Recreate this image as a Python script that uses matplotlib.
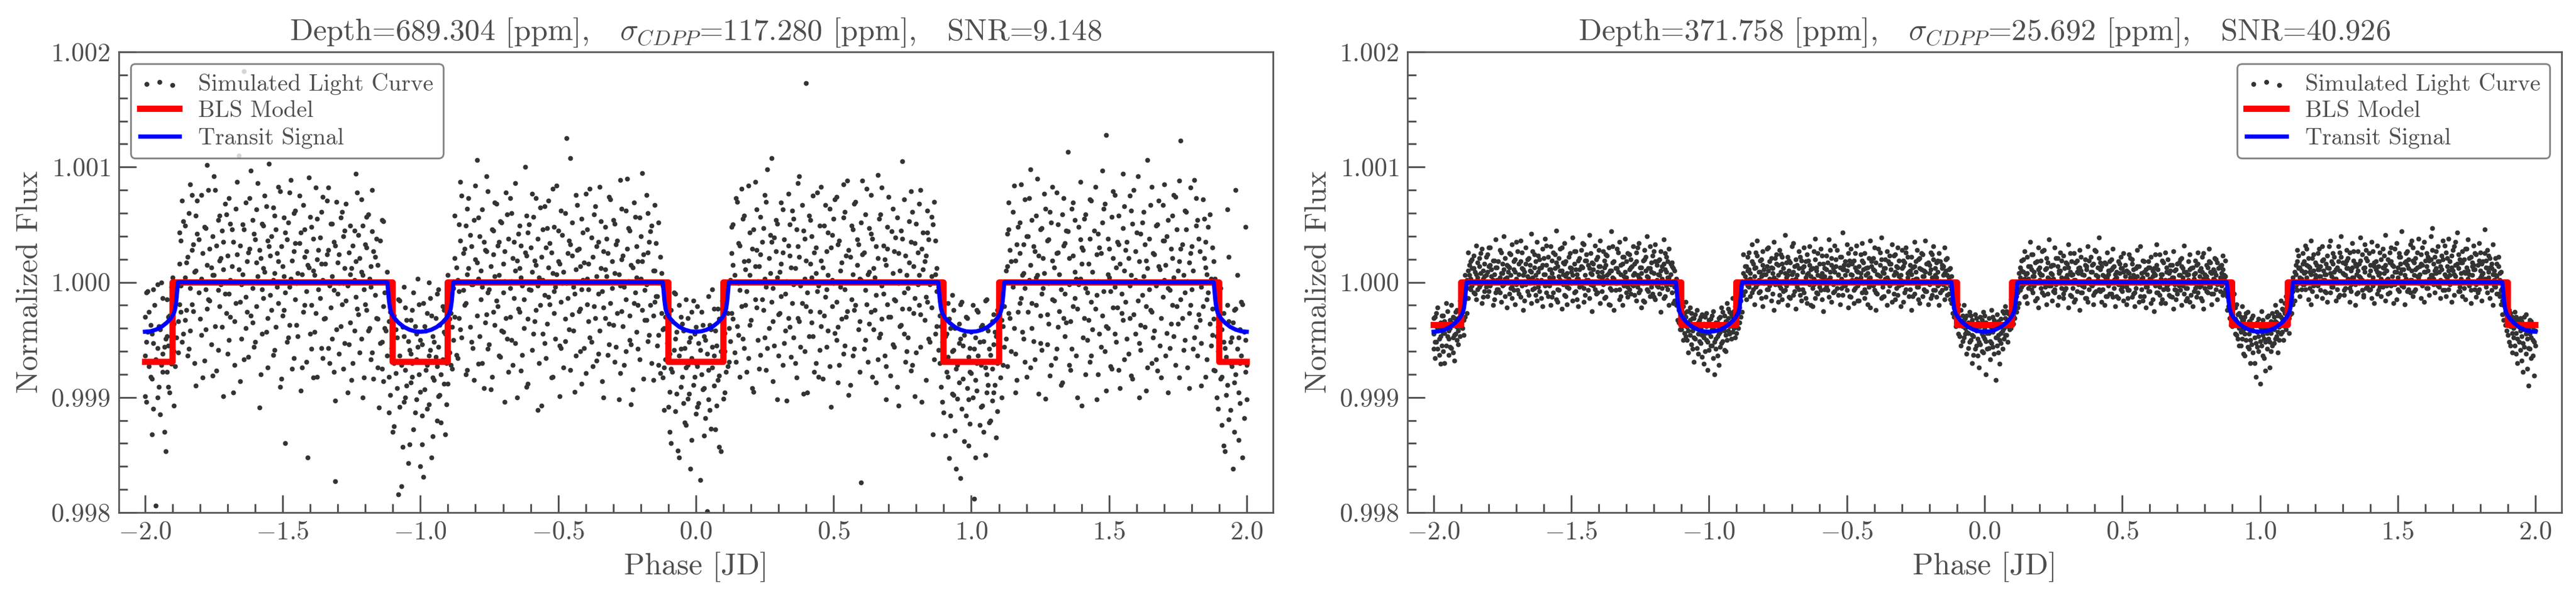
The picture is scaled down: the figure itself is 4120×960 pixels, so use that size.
import matplotlib
matplotlib.use('Agg')
import numpy as np
import matplotlib.pyplot as plt
from matplotlib.ticker import MultipleLocator

# light curves: {phase in 0.01: [flux offsets in 10 ppm from the baseline]}
lc1_baseline = 0.99988
lc2_baseline = 1.0

lc1 = {
-200: [-52, -18, -87], -199: [-31, 4], -198: [-70, -25], -197: [-98, -41, 6], -196: [-182, -55],
-195: [-26, -79], -194: [12, -60], -193: [-44, -118], -192: [-3, -66, -35], -191: [-84, -17],
-190: [-38, 16], -189: [-61, 1], -188: [-22, -49], -187: [9, 48, -14], -186: [-33, 65],
-185: [29, -12], -184: [72, -46], -183: [40, -7, 88], -182: [-58, 21], -181: [54, 83],
-180: [-20, 13], -179: [37, -71], -178: [6, 59, -29], -177: [92, -3], -176: [-42, 25],
-175: [18, 104], -174: [-65, 44], -173: [31, -9, 70], -172: [-27, 57], -171: [80, 2],
-170: [-50, 35], -169: [14, 63, -18], -168: [47, -84], -167: [-6, 76], -166: [122, 23],
-165: [-37, 10], -164: [58, -55, 195], -163: [30, -14], -162: [85, 41], -161: [-23, 66, 7],
-160: [49, -40], -159: [17, 98], -158: [-68, 33], -157: [61, -2, 24], -156: [-31, 78],
-155: [43, 115], -154: [-12, 52], -153: [70, -47, 20], -152: [8, 37], -151: [-79, 91],
-150: [26, -17], -149: [55, 3, -128], -148: [-36, 64], -147: [101, 15], -146: [-54, 39, 72],
-145: [11, -25], -144: [46, 87], -143: [-62, 19], -142: [34, -8, 58], -141: [-140, 27],
-140: [69, -33], -139: [22, 50, -71], -138: [-15, 94], -137: [40, 6], -136: [-45, 73, 28],
-135: [12, -20], -134: [83, 36], -133: [-58, 9], -132: [63, -37, 17], -131: [-91, 44, -161],
-130: [29, 2], -129: [-26, 68], -128: [52, -63, 11], -127: [-4, 80], -126: [38, -42],
-125: [-73, 24], -124: [57, 14, -30], -123: [90, -11], -122: [-49, 33], -121: [18, -88, 61],
-120: [-7, 45], -119: [71, -30], -118: [-55, 8, 26], -117: [39, -72], -116: [-19, 50],
-115: [-97, 12], -114: [-40, 66, -63], -113: [3, -28], -112: [-52, 21], -111: [-86, -14],
-110: [-41, -118, 5], -109: [-67, -29], -108: [-3, -172], -107: [-165, -60], -106: [-35, -92, 8],
-105: [-78, -21], -104: [-129, -47], -103: [-12, -70, -58], -102: [-101, -26], -101: [-44, 15],
-100: [-83, -148, -38], -99: [-157, -6], -98: [-64, -30], -97: [-94, -52, 12], -96: [-17, -140],
-95: [-73, -40], -94: [-108, 2, -61], -93: [-25, -86], -92: [-55, -9], -91: [-120, -33],
-90: [-47, 18, -76], -89: [-15, -60], -88: [-38, 7], -87: [25, -51], -86: [62, 4, -19],
-85: [-36, 87], -84: [41, -8], -83: [76, 19, -64], -82: [-27, 53], -81: [10, -45],
-80: [96, 32], -79: [-59, 15, 68], -78: [22, -3], -77: [-80, 47], -76: [39, 104, -16],
-75: [-42, 6], -74: [58, -70], -73: [17, 81, -25], -72: [-9, 44], -71: [65, -53],
-70: [-31, 28, 3], -69: [90, -19], -68: [-66, 50], -67: [13, -38, 72], -66: [47, -2],
-65: [-88, 31], -64: [24, 61, -14], -63: [-51, 9], -62: [112, 38], -61: [-20, -76, 55],
-60: [5, 42], -59: [69, -33], -58: [-12, 27, 85], -57: [-58, 16], -56: [34, -95],
-55: [78, 1, -41], -54: [-24, 59], -53: [46, -7], -52: [-70, 20, 93], -51: [8, -37],
-50: [57, 30], -49: [-45, 74, -5], -48: [21, -62], -47: [137, 11], -46: [-29, 48],
-45: [64, -16, 35], -44: [-83, 2], -43: [40, 79], -42: [-11, -48, 26], -41: [55, 14],
-40: [-67, 89], -39: [28, -22, 6], -38: [-40, 51], -37: [71, -9], -36: [17, -56, 43],
-35: [-30, 95], -34: [4, -74], -33: [60, 23, -19], -32: [-51, 37], -31: [84, -6],
-30: [-25, 12, 66], -29: [45, -44], -28: [-90, 19], -27: [32, 76, -13], -26: [-60, 8],
-25: [102, 41], -24: [-17, -38, 57], -23: [25, -81], -22: [69, 3], -21: [-46, 30, -8],
-20: [15, 52], -19: [-72, 36], -18: [88, -21, 10], -17: [-34, 47], -16: [61, -58],
-15: [-5, 22, 79], -14: [-43, 0], -13: [34, -67], -12: [-29, -71, 9], -11: [-55, -18],
-10: [-96, -40], -9: [-12, -128, -63], -8: [-47, 3], -7: [-85, -31], -6: [-140, -52, -8],
-5: [-70, -24], -4: [-110, -45], -3: [-19, -89, -60], -2: [-36, -150], -1: [-77, -4],
0: [-58, -102, -27], 1: [-93, -41], 2: [-14, -68], 3: [-121, -35, -80], 4: [-187, -50],
5: [-25, -99], 6: [-62, 6, -44], 7: [-116, -30], 8: [-73, -11], 9: [-48, -135, -20],
10: [-89, -39], 11: [-2, -66], 12: [-28, -57], 13: [37, -15, 60], 14: [-49, 18],
15: [82, -26], 16: [5, 44, -70], 17: [-37, 67], 18: [23, -8], 19: [96, -54, 31],
20: [-21, 12], 21: [58, -83], 22: [-10, 40, 75], 23: [-63, 26], 24: [47, -3],
25: [-36, 88, 15], 26: [110, -45], 27: [20, 53], 28: [-74, 7, -22], 29: [39, 66],
30: [-16, -52], 31: [81, 28, 0], 32: [-41, 49], 33: [13, -91], 34: [62, -27, 35],
35: [-6, 74], 36: [-58, 24], 37: [43, 98, -19], 38: [9, -44], 39: [-85, 57],
40: [31, 185, -9], 41: [70, -35], 42: [-23, 16, 52], 43: [-66, 38], 44: [90, 4],
45: [-47, 61, -14], 46: [25, -72], 47: [-1, 79], 48: [55, -30, 18], 49: [-96, 42],
50: [11, 67], 51: [-38, -5, 86], 52: [48, -60], 53: [-20, 29], 54: [73, -43, 6],
55: [-13, 100], 56: [34, -77], 57: [-52, 19, 58], 58: [82, -8], 59: [-29, 45],
60: [-162, 14, 64], 61: [38, -46], 62: [-7, 93], 63: [59, -24, 21], 64: [-70, 50],
65: [16, -12], 66: [105, -55, 33], 67: [-33, 71], 68: [44, 2], 69: [-61, 27, -90],
70: [86, -18], 71: [12, 56], 72: [-44, -3, 39], 73: [68, -79], 74: [-26, 22],
75: [50, 117, -11], 76: [-57, 35], 77: [7, -36], 78: [91, 47, -65], 79: [-15, 26],
80: [63, -49], 81: [-8, 80, 18], 82: [-92, 41], 83: [30, -21], 84: [74, -5, 55],
85: [-40, 10], 86: [-120, 62], 87: [19, -33, 48], 88: [-47, 8], 89: [-79, -26],
90: [-10, -101, -55], 91: [-66, -33], 92: [-141, -20], 93: [-85, -48, 1], 94: [-28, -117],
95: [-60, -89], 96: [-37, -158, -7], 97: [-72, -43], 98: [-104, -18], 99: [-53, -90, -130],
100: [-31, -67], 101: [-176, -46], 102: [-82, -12, -58], 103: [-40, -112], 104: [-95, -25],
105: [-62, -138, -4], 106: [-30, -77], 107: [-108, -51], 108: [-16, -84, -42], 109: [-123, -35],
110: [-56, 3], 111: [-88, -21], 112: [-44, -9], 113: [26, -61, 54], 114: [-19, 40],
115: [73, 8], 116: [-50, 31, -84], 117: [60, -14], 118: [-2, 97], 119: [45, -37, 20],
120: [-70, 52], 121: [14, 85], 122: [-28, -6, 66], 123: [39, -55], 124: [102, 18],
125: [-41, 58, -17], 126: [7, 33], 127: [-89, 76], 128: [49, -24, 11], 129: [-60, 64],
130: [25, -4], 131: [90, -46, 37], 132: [-13, 19], 133: [71, -75], 134: [-35, 46, 2],
135: [56, 125], 136: [-22, -64], 137: [35, 81, -9], 138: [-52, 15], 139: [10, 60],
140: [-95, 42, 28], 141: [67, -19], 142: [-38, 3], 143: [84, -57, 50], 144: [21, -29],
145: [-11, 95], 146: [54, -68, 13], 147: [-44, 37], 148: [76, 4], 149: [-26, 140, -82],
150: [41, 16], 151: [-63, 69], 152: [8, -33, 88], 153: [47, -10], 154: [-80, 28],
155: [59, 106, -21], 156: [-5, 40], 157: [33, -50], 158: [-69, 74, 18], 159: [92, -16],
160: [12, 55], 161: [-41, -88, 30], 162: [64, 1], 163: [-27, 45], 164: [118, -62, 24],
165: [-12, 79], 166: [37, -36], 167: [-55, 9, 61], 168: [83, 26], 169: [-19, -71],
170: [48, 14, 97], 171: [-32, 52], 172: [5, -45], 173: [70, 33, -8], 174: [-60, 86],
175: [22, -24], 176: [135, -3, 41], 177: [-47, 18], 178: [58, 73], 179: [-15, -80, 29],
180: [43, 6], 181: [-36, 101], 182: [66, -52, 12], 183: [-21, 39], 184: [84, -9],
185: [-70, 47, 25], 186: [3, 60], 187: [-43, 15], 188: [-20, -64, 30], 189: [-88, -35],
190: [-51, 2], 191: [-112, -29, -70], 192: [-45, -135], 193: [-8, -77, 75], 194: [-99, -40, -58],
195: [-23, -150], 196: [-68, -11, 92], 197: [-84, -125, -36], 198: [-52, -5], 199: [-106, -31],
200: [-60, -90],
}

lc1_half = {
-199.5: [-40, -92, 3], -198.5: [-61, -14], -197.5: [-33, -120, -72], -196.5: [-8, -57],
-195.5: [-88, -45, 10], -194.5: [-29, -103], -193.5: [-66, -2, -50], -192.5: [-135, -37],
-191.5: [-18, -79, -43], -190.5: [-59, 8], -189.5: [-95, -24, -48], -188.5: [-36, 11],
-187.5: [-7, 55, 28], -186.5: [83, -40], -185.5: [16, -21, 61], -184.5: [-52, 34],
-183.5: [7, 97, -30], -182.5: [45, -13], -181.5: [-78, 22, 70], -180.5: [3, 49],
-179.5: [-34, 88, 15], -178.5: [60, -56], -177.5: [-11, 27, 114], -176.5: [41, -4],
-175.5: [-69, 18, 52], -174.5: [92, -26], -173.5: [5, 66, -47], -172.5: [33, 10],
-171.5: [-87, 47, 23], -170.5: [71, -15], -169.5: [-38, 2, 85], -168.5: [26, 58],
-167.5: [-60, 13, -22], -166.5: [99, 36], -165.5: [-5, -74, 44], -164.5: [62, 19],
-163.5: [-28, 81, -1], -162.5: [38, -53], -161.5: [12, 109, -17], -160.5: [-44, 54],
-159.5: [29, -9, 75], -158.5: [-97, 40], -157.5: [6, 63, -33], -156.5: [87, 21],
-155.5: [-19, -62, 48], -154.5: [35, 1], -153.5: [-51, 77, 14], -152.5: [58, -27],
-151.5: [-6, 30, 95], -150.5: [-72, 43], -149.5: [17, -12, 68], -148.5: [49, -40],
-147.5: [-25, 90, 8], -146.5: [-63, 31], -145.5: [74, -3, 46], -144.5: [-35, 20],
-143.5: [55, -82, 12], -142.5: [-14, 79], -141.5: [39, 4, -57], -140.5: [103, 25],
-139.5: [-46, 60, -8], -138.5: [18, -31], -137.5: [67, 32, -70], -136.5: [-2, 51],
-135.5: [-54, 14, 86], -134.5: [28, -19], -133.5: [94, -45, 40], -132.5: [-10, 63],
-131.5: [47, -66, 5], -130.5: [-29, 82], -129.5: [11, 36, -50], -128.5: [73, -7],
-127.5: [-41, 24, 57], -126.5: [9, -84], -125.5: [61, 19, -23], -124.5: [-58, 44],
-123.5: [30, -1, 106], -122.5: [-16, 53], -121.5: [84, -37, 21], -120.5: [-71, 6],
-119.5: [42, 69, -12], -118.5: [-28, 15], -117.5: [56, -49, 92], -116.5: [1, 34],
-115.5: [-62, 27, -20], -114.5: [48, -41], -113.5: [-9, 65, -74], -112.5: [-30, 12],
-111.5: [-70, -22, -101], -110.5: [-45, 4], -109.5: [-113, -58, -17], -108.5: [-80, -36],
-107.5: [-4, -96, -52], -106.5: [-131, -27], -105.5: [-64, -10, -88], -104.5: [-39, -145],
-103.5: [-75, -21, -50], -102.5: [-116, 3], -101.5: [-55, -90, -33], -100.5: [-7, -68],
-99.5: [-104, -42, -129], -98.5: [-26, -81], -97.5: [-60, -15, -98], -96.5: [-47, -2],
-95.5: [-122, -71, -35], -94.5: [-53, -19], -93.5: [-87, -44, 6], -92.5: [-68, -110],
-91.5: [-31, -76, -12], -90.5: [-58, -94], -89.5: [-20, -49, 9], -88.5: [-63, -27],
-87.5: [33, -18, 70], -86.5: [-54, 14], -85.5: [48, -29, 99], -84.5: [5, 37],
-83.5: [-68, 61, -6], -82.5: [24, 85], -81.5: [-40, 10, 43], -80.5: [66, -73],
-79.5: [-17, 29, 118], -78.5: [52, -35], -77.5: [8, -58, 75], -76.5: [-23, 40],
-75.5: [91, 3, -46], -74.5: [-81, 26], -73.5: [36, 57, -14], -72.5: [-4, 80],
-71.5: [-52, 18, 47], -70.5: [64, -30], -69.5: [13, -92, 39], -68.5: [-37, 71],
-67.5: [85, 7, -18], -66.5: [-60, 33], -65.5: [22, 98, -41], -64.5: [-11, 54],
-63.5: [44, -65, 16], -62.5: [-28, -3], -61.5: [70, 35, -79], -60.5: [6, 62],
-59.5: [-47, 21, 89], -58.5: [31, -22], -57.5: [-99, 50, 9], -56.5: [77, -8],
-55.5: [-33, 14, 58], -54.5: [42, -54], -53.5: [-1, 83, 25], -52.5: [-71, 38],
-51.5: [60, -15, 4], -50.5: [19, 96], -49.5: [-43, 28, -87], -48.5: [53, 11],
-47.5: [-20, 72, -39], -46.5: [37, -2], -45.5: [-64, 45, 120], -44.5: [8, -30],
-43.5: [88, 23, -52], -42.5: [-13, 41], -41.5: [-76, 6, 67], -40.5: [29, -45],
-39.5: [58, 15, -7], -38.5: [-36, 93], -37.5: [12, -61, 34], -36.5: [78, -19],
-35.5: [-50, 47, 2], -34.5: [24, 65], -33.5: [-88, -10, 39], -32.5: [50, 17],
-31.5: [-24, 86, -42], -30.5: [7, 30], -29.5: [63, -57, 20], -28.5: [-15, 48],
-27.5: [-67, 9, 101], -26.5: [35, -26], -25.5: [-3, 74, -48], -24.5: [59, 13],
-23.5: [-42, 27, -94], -22.5: [81, -6], -21.5: [16, 43, -31], -20.5: [-55, 68],
-19.5: [30, -12, 107], -18.5: [-21, 5], -17.5: [72, -39, 38], -16.5: [-8, 56],
-15.5: [-73, 22, -17], -14.5: [46, 0], -13.5: [-34, 64, -60], -12.5: [-15, 20],
-11.5: [-62, -28, -99], -10.5: [-41, 7], -9.5: [-83, -50, -118], -8.5: [-22, -66],
-7.5: [-100, -37, 2], -6.5: [-57, -134], -5.5: [-18, -79, -46], -4.5: [-93, -30],
-3.5: [-62, -3, -112], -2.5: [-40, -85], -1.5: [-125, -54, -14], -0.5: [-70, -33],
0.5: [-9, -96, -61], 1.5: [-47, -160], 2.5: [-81, -25, -57], 3.5: [-106, -38],
4.5: [-64, 0, -90], 5.5: [-29, -115], 6.5: [-52, -78, -11], 7.5: [-95, -43],
8.5: [-20, -69, -131], 9.5: [-56, -4], 10.5: [-84, -32, -48], 11.5: [-15, -61],
12.5: [-39, 14], 13.5: [62, -20, 27], 14.5: [-57, 85], 15.5: [11, 46, -34],
16.5: [93, -9], 17.5: [-45, 30, 70], 18.5: [4, -66], 19.5: [55, 18, -25],
20.5: [-80, 41], 21.5: [26, 99, -3], 22.5: [-38, 13], 23.5: [69, -51, 36],
24.5: [-12, 59], 25.5: [-64, 8, 82], 26.5: [33, -28], 27.5: [-5, 120, 47],
28.5: [51, -43], 29.5: [-90, 16, 63], 30.5: [21, -15], 31.5: [75, 38, -60],
32.5: [-30, 2], 33.5: [44, 89, -19], 34.5: [-53, 25], 35.5: [10, -36, 67],
36.5: [58, -71], 37.5: [-22, 34, 104], 38.5: [79, -6], 39.5: [-48, 15, 50],
40.5: [3, -84], 41.5: [66, 28, -13], 42.5: [-35, 87], 43.5: [20, -58, 42],
44.5: [-70, 9], 45.5: [95, 31, -26], 46.5: [-17, 61], 47.5: [39, -44, 6],
48.5: [-61, 76], 49.5: [14, -9, 53], 50.5: [84, -32], 51.5: [-27, 45, -75],
52.5: [8, 22], 53.5: [-50, 68, 97], 54.5: [35, -18], 55.5: [-86, 12, 40],
56.5: [61, -3], 57.5: [-12, 80, -46], 58.5: [27, 49], 59.5: [-66, -22, 15],
60.5: [100, 36], 61.5: [-38, 5, 71], 62.5: [19, -57], 63.5: [54, -14, 88],
64.5: [-29, 24], 65.5: [-75, 43, 1], 66.5: [67, -36], 67.5: [9, 94, -20],
68.5: [-52, 32], 69.5: [41, -7, 60], 70.5: [-18, -69], 71.5: [76, 20, -42],
72.5: [-4, 51], 73.5: [-95, 37, 11], 74.5: [57, -25], 75.5: [-33, 84, 3],
76.5: [18, -48], 77.5: [65, -11, 29], 78.5: [-60, 73], 79.5: [-2, 46, -87],
80.5: [38, 10], 81.5: [-44, 92, -16], 82.5: [23, 55], 83.5: [-73, -1, 35],
84.5: [49, -37], 85.5: [-10, 69, 17], 86.5: [82, -55], 87.5: [-26, 24, 4],
88.5: [-58, -17], 89.5: [-92, -40, 11], 90.5: [-35, -121], 91.5: [-70, -6, -53],
92.5: [-104, -28], 93.5: [-47, -86, -12], 94.5: [-63, -150], 95.5: [-24, -75, -41],
96.5: [-98, -5], 97.5: [-57, -126, -34], 98.5: [-80, -19], 99.5: [-45, -111, -66],
100.5: [-8, -88], 101.5: [-73, -36, -140], 102.5: [-52, -14], 103.5: [-96, -60, -27],
104.5: [-39, -118], 105.5: [-68, -3, -84], 106.5: [-110, -46], 107.5: [-22, -63, -91],
108.5: [-77, -31], 109.5: [-12, -58, -100], 110.5: [-44, -71], 111.5: [-26, 9, -60],
112.5: [-37, 22], 113.5: [58, -15, 81], 114.5: [-48, 30], 115.5: [12, 96, -28],
116.5: [-73, 45], 117.5: [37, -6, 64], 118.5: [-31, 18], 119.5: [84, -57, 7],
120.5: [-14, 52], 121.5: [-62, 27, 110], 122.5: [43, -39], 123.5: [-8, 70, 16],
124.5: [-85, 35], 125.5: [59, 2, -47], 126.5: [20, 89], 127.5: [-42, -16, 48],
128.5: [73, -69], 129.5: [-3, 31, 95], 130.5: [-54, 12], 131.5: [38, -27, 62],
132.5: [-77, 6], 133.5: [85, 44, -19], 134.5: [-23, 57], 135.5: [10, -60, 33],
136.5: [-46, 76], 137.5: [66, 21, -2], 138.5: [-11, -88], 139.5: [49, 99, 15],
140.5: [-36, 40], 141.5: [-68, 7, 71], 142.5: [28, -21], 143.5: [-5, 83, -52],
144.5: [57, 13], 145.5: [-90, 36, 1], 146.5: [42, -33], 147.5: [-17, 64, 109],
148.5: [80, -48], 149.5: [-28, 19, 50], 150.5: [-61, 4], 151.5: [33, 91, -10],
152.5: [-40, 25], 153.5: [70, -64, 45], 154.5: [2, -15], 155.5: [-55, 78, 22],
156.5: [47, -37], 157.5: [-19, 9, 87], 158.5: [63, -72], 159.5: [-33, 39, 14],
160.5: [104, -4], 161.5: [-47, 54, -25], 162.5: [17, 73], 163.5: [-82, -9, 31],
164.5: [50, 6], 165.5: [-14, 95, -58], 166.5: [36, -30], 167.5: [-65, 62, 11],
168.5: [23, -43], 169.5: [79, -1, 48], 170.5: [-52, 27], 171.5: [7, -84, 66],
172.5: [-24, 41], 173.5: [88, 16, -35], 174.5: [-9, 58], 175.5: [-71, 30, 100],
176.5: [45, -19], 177.5: [-38, 74, 3], 178.5: [13, -62], 179.5: [94, 37, -8],
180.5: [-46, 22], 181.5: [61, -27, 85], 182.5: [-16, 50], 183.5: [-78, 8, -41],
184.5: [33, 67], 185.5: [-3, -55, 19], 186.5: [71, -24], 187.5: [-34, 42, -11],
188.5: [-65, 15], 189.5: [-27, -98, -48], 190.5: [-72, 7], 191.5: [-40, -130, -15],
192.5: [-86, -53], 193.5: [-22, 34, -107], 194.5: [-61, -36], 195.5: [-118, -12, -75],
196.5: [-46, 18], 197.5: [-93, -58, -29], 198.5: [-7, -140], 199.5: [-66, -38, 60],
}

lc2 = {
-200: [-45, -31, -58], -199: [-38, -52, -27], -198: [-49, -36, -63], -197: [-41, -29, -55],
-196: [-34, -70, -44], -195: [-47, -38, -25], -194: [-56, -40, -33], -193: [-30, -48, -61],
-192: [-37, -26, -45], -191: [-42, -31, -54], -190: [-28, -39, -22], -189: [-33, -18, -46],
-188: [-14, -27, 2], -187: [6, -5, 15], -186: [12, -3, 20], -185: [1, 9, -10],
-184: [17, 4, -6], -183: [-2, 25, 8], -182: [10, -13, 3], -181: [22, 6, -4],
-180: [-8, 14, 30], -179: [5, -1, 11], -178: [19, -15, 7], -177: [2, 13, -6],
-176: [28, -9, 4], -175: [8, 16, -3], -174: [-12, 3, 21], -173: [14, 0, 9],
-172: [-5, 24, 6], -171: [11, -7, 18], -170: [3, 35, -2], -169: [16, -10, 7],
-168: [-3, 12, 26], -167: [9, -16, 1], -166: [20, 5, -8], -165: [-1, 15, 10],
-164: [27, -6, 4], -163: [6, 18, -11], -162: [-4, 9, 23], -161: [13, 2, -14],
-160: [0, 21, 7], -159: [15, -9, 32], -158: [4, 11, -3], -157: [-13, 19, 8],
-156: [24, 1, 12], -155: [-6, 14, -17], -154: [10, 29, 2], -153: [-2, 7, 17],
-152: [18, -12, 5], -151: [3, 22, -5], -150: [12, -1, 9], -149: [-9, 16, 27],
-148: [7, 3, -15], -147: [21, -4, 11], -146: [1, 13, 34], -145: [-11, 6, 19],
-144: [15, -7, 2], -143: [8, 25, -2], -142: [-3, 11, 16], -141: [20, 0, -10],
-140: [5, 14, 28], -139: [-8, 9, 3], -138: [13, -14, 19], -137: [2, 23, 6],
-136: [-5, 10, -20], -135: [17, 4, 31], -134: [-1, 12, -7], -133: [9, 26, 0],
-132: [-12, 7, 15], -131: [22, -3, 5], -130: [4, 18, -9], -129: [11, -6, 24],
-128: [-2, 14, 1], -127: [16, -11, 8], -126: [6, 30, -4], -125: [-7, 3, 13],
-124: [19, -1, -16], -123: [0, 10, 22], -122: [12, -8, 4], -121: [-4, 17, 9],
-120: [8, -13, 27], -119: [15, 2, -3], -118: [-10, 20, 6], -117: [3, -5, 14],
-116: [11, 25, -12], -115: [-6, 4, 18], -114: [16, -2, 7], -113: [1, 12, -18],
-112: [-8, -20, 3], -111: [-24, -12, -35], -110: [-30, -19, -41], -109: [-27, -44, -36],
-108: [-39, -25, -50], -107: [-33, -46, -22], -106: [-42, -31, -58], -105: [-37, -49, -28],
-104: [-45, -35, -62], -103: [-40, -53, -30], -102: [-36, -48, -71], -101: [-50, -38, -27],
-100: [-44, -59, -33], -99: [-41, -29, -55], -98: [-52, -37, -80], -97: [-35, -47, -64],
-96: [-43, -30, -56], -95: [-39, -51, -26], -94: [-46, -34, -60], -93: [-31, -42, -23],
-92: [-37, -49, -28], -91: [-25, -40, -33], -90: [-30, -19, -44], -89: [-22, -35, -15],
-88: [-11, -26, 1], -87: [5, -8, 14], -86: [-3, 10, 22], -85: [8, -12, 3],
-84: [16, 1, -6], -83: [-4, 13, 26], -82: [9, -9, 2], -81: [20, 5, -14],
-80: [-1, 11, 7], -79: [14, -6, 29], -78: [3, 18, -3], -77: [-10, 8, 12],
-76: [21, -2, 0], -75: [6, 15, -17], -74: [-5, 24, 9], -73: [12, 1, -8],
-72: [-3, 17, 4], -71: [10, -13, 19], -70: [2, 7, 31], -69: [-8, 14, -1],
-68: [15, -4, 6], -67: [0, 22, -11], -66: [9, -6, 13], -65: [-14, 4, 18],
-64: [19, -1, 8], -63: [5, 11, -20], -62: [-2, 27, 3], -61: [13, -9, 10],
-60: [1, 16, -4], -59: [8, -15, 23], -58: [-6, 5, 12], -57: [17, 2, -7],
-56: [4, 28, 9], -55: [-9, 12, -2], -54: [14, 0, 20], -53: [6, -11, 7],
-52: [22, 3, -5], -51: [-3, 15, 11], -50: [10, -7, 33], -49: [1, 19, -12],
-48: [16, 6, 2], -47: [-5, 13, 25], -46: [9, -3, -16], -45: [24, 8, 4],
-44: [-1, 17, 11], -43: [12, -9, 6], -42: [3, 21, -4], -41: [18, -2, 14],
-40: [-7, 10, 30], -39: [7, 1, -10], -38: [15, 26, 5], -37: [-4, 9, -13],
-36: [20, 3, 12], -35: [2, -8, 18], -34: [11, 16, -1], -33: [-10, 6, 23],
-32: [14, -5, 8], -31: [5, 19, -3], -30: [-2, 12, 28], -29: [17, 0, -9],
-28: [8, 22, 4], -27: [-6, 10, 15], -26: [13, -12, 2], -25: [3, 18, 9],
-24: [20, -4, -15], -23: [-1, 11, 25], -22: [10, 5, -6], -21: [-8, 16, 1],
-20: [15, -2, 8], -19: [4, 24, -11], -18: [12, -7, 6], -17: [-3, 9, 19],
-16: [18, 1, -9], -15: [6, 14, -2], -14: [-5, 20, 10], -13: [11, -10, 4],
-12: [-6, -18, 5], -11: [-22, -30, -13], -10: [-28, -37, -18], -9: [-33, -24, -47],
-8: [-38, -29, -51], -7: [-31, -45, -40], -6: [-44, -35, -57], -5: [-39, -50, -29],
-4: [-47, -36, -63], -3: [-42, -31, -55], -2: [-38, -52, -74], -1: [-45, -33, -60],
0: [-49, -40, -29], 1: [-36, -58, -44], 2: [-51, -38, -67], 3: [-43, -30, -56],
4: [-39, -48, -85], 5: [-46, -34, -61], 6: [-32, -44, -53], 7: [-40, -27, -49],
8: [-35, -46, -25], 9: [-28, -41, -33], 10: [-24, -36, -17], 11: [-20, -31, -12],
12: [-9, -22, 0], 13: [4, -7, 13], 14: [-2, 9, 20], 15: [7, -12, 1],
16: [14, 3, -5], 17: [-6, 11, 24], 18: [9, -3, 5], 19: [18, 0, -14],
20: [2, 13, 8], 21: [-9, 6, 27], 22: [11, -4, 1], 23: [4, 17, -10],
24: [-3, 8, 14], 25: [15, -8, 3], 26: [0, 21, -2], 27: [8, -13, 10],
28: [-5, 4, 19], 29: [12, -1, -7], 30: [3, 16, 6], 31: [-11, 9, 25],
32: [7, -5, 0], 33: [17, 2, -15], 34: [-2, 12, 8], 35: [10, -9, 22],
36: [1, 6, -4], 37: [14, -14, 11], 38: [-6, 19, 3], 39: [9, -3, 15],
40: [-1, 28, -9], 41: [13, 5, 2], 42: [-8, 11, 17], 43: [6, -6, 0],
44: [16, 3, -12], 45: [-3, 10, 7], 46: [11, -10, 20], 47: [2, 14, -5],
48: [-12, 4, 9], 49: [8, -2, 16], 50: [-4, 12, -8], 51: [15, 0, 5],
52: [-7, 9, -14], 53: [4, 21, 2], 54: [-10, 6, 11], 55: [12, -5, -1],
56: [1, 14, -17], 57: [-6, 3, 8], 58: [9, -12, 18], 59: [-2, 7, -4],
60: [13, -8, 3], 61: [-15, 5, 10], 62: [6, -3, 24], 63: [-9, 11, 0],
64: [3, -18, 7], 65: [17, -1, -6], 66: [-4, 9, 13], 67: [8, -11, 2],
68: [-13, 4, 15], 69: [10, -6, -2], 70: [0, 16, -10], 71: [-7, 6, 20],
72: [12, -3, 4], 73: [-5, 9, -16], 74: [2, 18, 7], 75: [-11, 0, 12],
76: [7, -8, 3], 77: [15, -2, -13], 78: [-4, 10, 5], 79: [9, -16, 22],
80: [1, 7, -5], 81: [-9, 13, 2], 82: [17, -4, 9], 83: [3, 11, -10],
84: [-6, 20, 6], 85: [12, -1, 0], 86: [-3, 8, 15], 87: [6, -9, 3],
88: [-12, -24, -4], 89: [-19, -31, -8], 90: [-27, -16, -38], 91: [-32, -22, -45],
92: [-36, -28, -49], 93: [-30, -43, -55], 94: [-41, -33, -62], 95: [-38, -50, -27],
96: [-45, -34, -58], 97: [-40, -54, -31], 98: [-48, -37, -70], 99: [-43, -56, -35],
100: [-39, -51, -88], 101: [-46, -33, -64], 102: [-52, -40, -77], 103: [-37, -49, -29],
104: [-44, -60, -34], 105: [-41, -30, -53], 106: [-35, -47, -26], 107: [-39, -28, -50],
108: [-32, -43, -23], 109: [-27, -38, -18], 110: [-22, -33, -14], 111: [-17, -28, -6],
112: [-8, -19, 4], 113: [7, -3, 15], 114: [-1, 12, 23], 115: [10, 3, -6],
116: [18, -2, 8], 117: [4, 15, 29], 118: [-5, 9, 13], 119: [21, 1, -8],
120: [6, 17, 3], 121: [-3, 11, 25], 122: [14, -7, 5], 123: [2, 20, 10],
124: [-9, 7, 16], 125: [12, -1, 31], 126: [5, 18, -4], 127: [22, 3, 9],
128: [-6, 13, 1], 129: [10, 26, -11], 130: [0, 8, 17], 131: [16, -5, 6],
132: [3, 21, 12], 133: [-8, 10, -2], 134: [19, 4, 27], 135: [7, -10, 14],
136: [-1, 16, 5], 137: [24, 2, -7], 138: [9, 13, 33], 139: [-4, 19, 1],
140: [15, -6, 10], 141: [4, 27, -3], 142: [11, 0, 18], 143: [-7, 14, 6],
144: [20, 3, -12], 145: [8, 23, 12], 146: [-3, 10, 2], 147: [17, -9, 26],
148: [5, 15, 0], 149: [-2, 29, 9], 150: [13, 4, -6], 151: [22, 8, 16],
152: [1, -4, 11], 153: [18, 25, 3], 154: [-6, 12, 20], 155: [10, 2, 36],
156: [6, 17, -8], 157: [26, 5, 13], 158: [-1, 14, 7], 159: [15, 30, -3],
160: [9, 1, 19], 161: [-5, 22, 10], 162: [20, 6, 40], 163: [3, 16, -2],
164: [12, 27, 8], 165: [-4, 9, 18], 166: [23, 1, 11], 167: [7, 32, -7],
168: [14, 4, 21], 169: [-2, 18, 6], 170: [28, 10, 0], 171: [5, 15, 35],
172: [-8, 24, 12], 173: [17, 3, 8], 174: [9, 20, -5], 175: [1, 13, 29],
176: [21, -3, 7], 177: [6, 17, 14], 178: [-6, 11, 25], 179: [15, 2, -9],
180: [10, 26, 4], 181: [-1, 8, 18], 182: [19, 13, -4], 183: [4, 23, 9],
184: [12, -7, 16], 185: [-3, 10, 2], 186: [16, 5, -10], 187: [2, -12, 8],
188: [-16, -28, -5], 189: [-25, -37, -14], 190: [-31, -22, -46], 191: [-38, -27, -55],
192: [-33, -48, -40], 193: [-44, -30, -62], 194: [-39, -52, -35], 195: [-47, -34, -68],
196: [-41, -56, -30], 197: [-36, -49, -75], 198: [-45, -33, -58], 199: [-50, -39, -64],
200: [-42, -55, -37],
}

lc2_half = {
-199.5: [-52, -30, -66], -198.5: [-40, -58, -22], -197.5: [-47, -71, -35], -196.5: [-29, -44, -60],
-195.5: [-55, -38, -18], -194.5: [-42, -63, -49], -193.5: [-35, -20, -57], -192.5: [-46, -31, -68],
-191.5: [-24, -50, -39], -190.5: [-33, -47, -16], -189.5: [-26, -40, -9], -188.5: [-12, -30, 6],
-187.5: [10, -14, 26], -186.5: [-6, 18, 3], -185.5: [23, -9, 12], -184.5: [-15, 7, 32],
-183.5: [14, -4, 21], -182.5: [-1, 29, -18], -181.5: [16, 5, -8], -180.5: [-12, 24, 9],
-179.5: [30, -3, 15], -178.5: [2, -20, 19], -177.5: [-9, 13, 37], -176.5: [18, -6, 1],
-175.5: [-17, 26, 8], -174.5: [11, -2, 40], -173.5: [-22, 15, 4], -172.5: [25, -10, 13],
-171.5: [-4, 33, -14], -170.5: [9, -19, 20], -169.5: [27, 0, -7], -168.5: [-13, 18, 36],
-167.5: [6, -24, 11], -166.5: [-2, 30, 16], -165.5: [21, -11, 3], -164.5: [-18, 9, 42],
-163.5: [13, -5, 24], -162.5: [35, -16, 2], -161.5: [-8, 20, 12], -160.5: [15, -21, 29],
-159.5: [-3, 38, 7], -158.5: [22, -12, -1], -157.5: [-20, 11, 31], -156.5: [4, 26, -9],
-155.5: [17, -15, 45], -154.5: [-7, 5, 21], -153.5: [30, -23, 10], -152.5: [-11, 16, 34],
-151.5: [8, -4, -19], -150.5: [25, 13, 1], -149.5: [-16, 39, 6], -148.5: [11, -8, 27],
-147.5: [-21, 19, 3], -146.5: [28, -2, 14], -145.5: [-5, 33, -17], -144.5: [19, 2, 24],
-143.5: [-14, 12, 41], -142.5: [7, -25, 17], -141.5: [32, 0, -6], -140.5: [-9, 22, 9],
-139.5: [14, -18, 36], -138.5: [-2, 27, 5], -137.5: [24, -13, 15], -136.5: [-19, 8, 30],
-135.5: [10, -7, 44], -134.5: [-24, 18, 3], -133.5: [29, -1, 12], -132.5: [-6, 35, -15],
-131.5: [16, -20, 22], -130.5: [2, 9, 38], -129.5: [-13, 25, -4], -128.5: [20, -10, 13],
-127.5: [-3, 31, 6], -126.5: [26, -16, 18], -125.5: [-9, 4, 34], -124.5: [13, -22, 8],
-123.5: [-17, 20, 28], -122.5: [5, -6, 40], -121.5: [31, 12, -12], -120.5: [-10, 23, 1],
-119.5: [18, -15, 33], -118.5: [-4, 7, 19], -117.5: [27, -26, 10], -116.5: [-14, 16, 37],
-115.5: [9, -3, 22], -114.5: [-20, 29, 4], -113.5: [14, -9, 17], -112.5: [-4, -16, 10],
-111.5: [-18, -33, -6], -110.5: [-26, -41, -12], -109.5: [-35, -21, -50], -108.5: [-30, -47, -17],
-107.5: [-42, -25, -61], -106.5: [-38, -54, -27], -105.5: [-48, -31, -69], -104.5: [-36, -57, -24],
-103.5: [-51, -33, -45], -102.5: [-28, -46, -65], -101.5: [-44, -60, -30], -100.5: [-37, -52, -76],
-99.5: [-55, -32, -47], -98.5: [-40, -66, -25], -97.5: [-49, -35, -58], -96.5: [-31, -45, -72],
-95.5: [-53, -38, -22], -94.5: [-42, -29, -59], -93.5: [-35, -50, -18], -92.5: [-45, -26, -38],
-91.5: [-30, -43, -14], -90.5: [-21, -36, -48], -89.5: [-27, -12, -40], -88.5: [-16, -3, -30],
-87.5: [8, -11, 24], -86.5: [-15, 14, 2], -85.5: [26, -4, 11], -84.5: [-9, 33, 18],
-83.5: [12, -19, 5], -82.5: [-2, 23, 36], -81.5: [19, -8, 9], -80.5: [-21, 15, 27],
-79.5: [7, -13, 1], -78.5: [30, 10, -6], -77.5: [-16, 21, 13], -76.5: [4, -24, 35],
-75.5: [24, 2, 16], -74.5: [-11, 28, -3], -73.5: [16, -15, 22], -72.5: [-7, 8, 41],
-71.5: [22, -20, 6], -70.5: [-14, 17, 0], -69.5: [9, 34, -11], -68.5: [-23, 3, 20],
-67.5: [27, -6, 12], -66.5: [0, 19, -16], -65.5: [14, -9, 30], -64.5: [-18, 24, 7],
-63.5: [31, -2, 15], -62.5: [-5, 12, -21], -61.5: [20, -14, 38], -60.5: [-10, 6, 25],
-59.5: [5, 29, -7], -58.5: [-25, 16, 3], -57.5: [23, -4, 11], -56.5: [-1, 37, -13],
-55.5: [15, -17, 21], -54.5: [-8, 9, 32], -53.5: [28, 1, -5], -52.5: [-19, 22, 13],
-51.5: [11, -11, 43], -50.5: [-3, 18, 6], -49.5: [25, -22, 15], -48.5: [-13, 7, 29],
-47.5: [19, -7, -18], -46.5: [3, 32, 10], -45.5: [-16, 14, 2], -44.5: [34, -9, 19],
-43.5: [-6, 25, -14], -42.5: [13, -19, 8], -41.5: [-22, 4, 36], -40.5: [21, 11, -3],
-39.5: [-9, -24, 17], -38.5: [29, 6, 0], -37.5: [-14, 20, 39], -36.5: [8, -12, 12],
-35.5: [-20, 27, 4], -34.5: [16, -3, 23], -33.5: [-1, 33, -17], -32.5: [24, -15, 9],
-31.5: [-11, 13, 30], -30.5: [6, -21, 2], -29.5: [-17, 19, 14], -28.5: [30, -6, 26],
-27.5: [1, 9, -12], -26.5: [-24, 22, 7], -25.5: [14, -10, 35], -24.5: [-4, 28, 3],
-23.5: [21, -18, 12], -22.5: [-12, 5, 24], -21.5: [9, 36, -8], -20.5: [-19, -1, 17],
-19.5: [26, 11, -14], -18.5: [-7, 20, 31], -17.5: [17, -13, 4], -16.5: [-2, 25, -20],
-15.5: [12, -7, 15], -14.5: [-15, 30, 8], -13.5: [6, -11, 21], -12.5: [-3, -15, 12],
-11.5: [-14, -27, -4], -10.5: [-23, -38, -11], -9.5: [-30, -19, -45], -8.5: [-36, -24, -55],
-7.5: [-33, -48, -20], -6.5: [-43, -29, -62], -5.5: [-37, -52, -26], -4.5: [-46, -33, -70],
-3.5: [-40, -58, -28], -2.5: [-49, -35, -64], -1.5: [-38, -54, -30], -0.5: [-47, -26, -61],
0.5: [-35, -51, -80], 1.5: [-44, -31, -57], 2.5: [-53, -39, -24], 3.5: [-41, -62, -33],
4.5: [-48, -28, -55], 5.5: [-36, -50, -71], 6.5: [-42, -25, -58], 7.5: [-31, -46, -21],
8.5: [-38, -27, -52], 9.5: [-24, -40, -15], 10.5: [-29, -17, -36], 11.5: [-12, -26, -3],
12.5: [-6, 8, -18], 13.5: [19, -4, 10], 14.5: [-13, 27, 3], 15.5: [8, -18, 22],
16.5: [-2, 14, 35], 17.5: [24, -9, 5], 18.5: [-16, 17, -1], 19.5: [11, -22, 30],
20.5: [-5, 6, 19], 21.5: [28, -11, 1], 22.5: [-19, 21, 12], 23.5: [3, -3, 37],
24.5: [15, -16, 7], 25.5: [-9, 30, -6], 26.5: [21, -20, 14], 27.5: [-1, 10, 26],
28.5: [-14, 23, -10], 29.5: [17, -5, 4], 30.5: [-22, 13, 33], 31.5: [6, -12, 18],
32.5: [25, 2, -17], 33.5: [-8, 19, 9], 34.5: [13, -24, 28], 35.5: [-3, 7, -9],
36.5: [20, -14, 15], 37.5: [-17, 31, 2], 38.5: [9, -2, 22], 39.5: [-11, 16, -19],
40.5: [27, -8, 6], 41.5: [-6, 21, 39], 42.5: [14, -17, 0], 43.5: [-20, 5, 17],
44.5: [4, 26, -12], 45.5: [18, -10, 10], 46.5: [-13, 13, 29], 47.5: [7, -21, 3],
48.5: [-2, 18, -14], 49.5: [22, -6, 12], 50.5: [-16, 9, 25], 51.5: [10, -19, -4],
52.5: [-7, 24, 8], 53.5: [16, -13, 20], 54.5: [-21, 3, -9], 55.5: [5, 28, 14],
56.5: [-12, -1, 31], 57.5: [19, -16, 4], 58.5: [-4, 11, -22], 59.5: [13, -8, 18],
60.5: [-18, 22, 2], 61.5: [8, -25, 12], 62.5: [-9, 15, 33], 63.5: [24, -4, -11],
64.5: [-15, 7, 19], 65.5: [2, -18, 26], 66.5: [-6, 20, -2], 67.5: [15, -12, 10],
68.5: [-23, 4, 27], 69.5: [11, -7, -15], 70.5: [-3, 17, 6], 71.5: [21, -20, 14],
72.5: [-10, 9, 32], 73.5: [6, -14, -5], 74.5: [-17, 24, 11], 75.5: [13, 0, -21],
76.5: [-5, 19, 8], 77.5: [26, -9, 16], 78.5: [-14, 12, -3], 79.5: [3, -23, 25],
80.5: [-8, 15, 5], 81.5: [18, -4, 29], 82.5: [-19, 8, -10], 83.5: [9, 21, 2],
84.5: [-2, -15, 17], 85.5: [14, 4, -8], 86.5: [-11, 23, 11], 87.5: [5, -6, 19],
88.5: [-9, -21, 0], 89.5: [-25, -14, -37], 90.5: [-22, -35, -10], 91.5: [-34, -46, -19],
92.5: [-40, -27, -55], 93.5: [-33, -49, -21], 94.5: [-45, -30, -64], 95.5: [-39, -56, -26],
96.5: [-50, -35, -70], 97.5: [-42, -61, -29], 98.5: [-36, -53, -82], 99.5: [-47, -32, -60],
100.5: [-55, -41, -25], 101.5: [-38, -66, -49], 102.5: [-44, -30, -58], 103.5: [-52, -36, -74],
104.5: [-40, -27, -55], 105.5: [-34, -49, -20], 106.5: [-43, -29, -61], 107.5: [-30, -45, -16],
108.5: [-37, -24, -50], 109.5: [-26, -41, -12], 110.5: [-31, -18, -44], 111.5: [-13, -27, -1],
112.5: [-4, 9, -16], 113.5: [18, -7, 28], 114.5: [-12, 13, 4], 115.5: [25, -2, 16],
116.5: [-6, 32, 9], 117.5: [14, -15, 21], 118.5: [-19, 7, 36], 119.5: [10, 24, -3],
120.5: [-2, -12, 15], 121.5: [29, 5, 11], 122.5: [-14, 19, 31], 123.5: [7, -8, 2],
124.5: [23, 13, -17], 125.5: [-9, 36, 8], 126.5: [16, -4, 25], 127.5: [-16, 11, 3],
128.5: [31, -13, 18], 129.5: [0, 22, 40], 130.5: [-11, 7, -7], 131.5: [19, 28, 12],
132.5: [-5, -17, 26], 133.5: [13, 4, 34], 134.5: [-20, 16, -2], 135.5: [27, -9, 10],
136.5: [4, 39, 19], 137.5: [-13, 12, -11], 138.5: [21, -5, 28], 139.5: [-7, 25, 6],
140.5: [35, 1, -14], 141.5: [-18, 17, 14], 142.5: [9, -10, 32], 143.5: [26, 8, -4],
144.5: [-4, 29, 13], 145.5: [15, -16, 41], 146.5: [-10, 20, 3], 147.5: [30, -3, 18],
148.5: [1, 14, -18], 149.5: [-15, 34, 9], 150.5: [22, -8, 25], 151.5: [-3, 11, 44],
152.5: [17, -19, 6], 153.5: [-8, 27, 15], 154.5: [33, 2, -9], 155.5: [-12, 19, 30],
156.5: [11, -6, 21], 157.5: [-1, 38, 4], 158.5: [24, -14, 16], 159.5: [-17, 9, 35],
160.5: [14, 25, -5], 161.5: [3, -11, 19], 162.5: [28, 6, 47], 163.5: [-9, 22, 10],
164.5: [18, -3, 31], 165.5: [-14, 14, 2], 166.5: [36, -7, 20], 167.5: [5, 26, -12],
168.5: [-6, 10, 38], 169.5: [23, -17, 13], 170.5: [-11, 31, 7], 171.5: [16, 1, 43],
172.5: [-4, 20, -8], 173.5: [27, -12, 17], 174.5: [-15, 8, 29], 175.5: [10, 37, 3],
176.5: [-7, -18, 22], 177.5: [32, 11, 15], 178.5: [-2, 24, -13], 179.5: [19, -6, 34],
180.5: [-16, 16, 6], 181.5: [25, 3, 46], 182.5: [-9, 28, 12], 183.5: [13, -14, 21],
184.5: [-20, 7, 33], 185.5: [6, 21, -4], 186.5: [22, -10, 14], 187.5: [-7, 9, -19],
188.5: [-20, -9, -33], 189.5: [-29, -42, -15], 190.5: [-36, -24, -52], 191.5: [-44, -30, -61],
192.5: [-38, -55, -26], 193.5: [-49, -33, -70], 194.5: [-42, -59, -31], 195.5: [-53, -37, -78],
196.5: [-45, -28, -62], 197.5: [-40, -57, -90], 198.5: [-48, -34, -66], 199.5: [-37, -52, -81],
}

# transit geometry
transit_centers = [-2.0, -1.0, 0.0, 1.0, 2.0]
phase_range = [-2.0, 2.0]
bls_half_width = 0.1
bls_depth_ppm = [689.304, 371.758]
# injected transit shape: offset from mid-transit [JD], flux drop [ppm]
signal_dt = [0.0, 0.02, 0.04, 0.06, 0.08, 0.095, 0.105, 0.11, 0.114, 0.117, 0.12]
signal_ppm = [-430, -426, -412, -388, -350, -310, -270, -230, -160, -80, 0]

titles = [r'Depth=689.304 [ppm],   $\sigma_{CDPP}$=117.280 [ppm],   SNR=9.148',
          r'Depth=371.758 [ppm],   $\sigma_{CDPP}$=25.692 [ppm],   SNR=40.926']
legend_loc = ['upper left', 'upper right']


def unpack(baseline, *lcs):
    ph, fl = [], []
    for lc in lcs:
        for p, vals in lc.items():
            ph += [p / 100.0] * len(vals)
            fl += vals
    return np.array(ph), baseline + np.array(fl) * 1e-5


def bls_curve(depth):
    d = depth * 1e-6
    xs, ys = [phase_range[0]], [1.0 - d]
    for c in transit_centers:
        for x, y in [(c - bls_half_width, 1.0), (c - bls_half_width, 1.0 - d),
                     (c + bls_half_width, 1.0 - d), (c + bls_half_width, 1.0)]:
            if phase_range[0] < x < phase_range[1]:
                xs.append(x)
                ys.append(y)
    xs.append(phase_range[1])
    ys.append(1.0 - d)
    return xs, ys


def signal_curve():
    xs, ys = [], []
    half = list(zip(signal_dt, signal_ppm))
    for c in transit_centers:
        pts = [(c - dt, v) for dt, v in half[::-1]] + [(c + dt, v) for dt, v in half[1:]]
        for x, v in pts:
            if phase_range[0] - 1e-9 <= x <= phase_range[1] + 1e-9:
                xs.append(x)
                ys.append(1.0 + v * 1e-6)
    return xs, ys


plt.rcParams['font.family'] = 'serif'
plt.rcParams['font.serif'] = ['cmr10']
plt.rcParams['mathtext.fontset'] = 'cm'
plt.rcParams['axes.formatter.use_mathtext'] = True
plt.rcParams['text.color'] = '0.3'
plt.rcParams['axes.labelcolor'] = '0.3'
plt.rcParams['axes.edgecolor'] = '0.35'
plt.rcParams['axes.linewidth'] = 1.0

fig, axes = plt.subplots(1, 2, figsize=(20.6, 4.8), dpi=200)
plt.subplots_adjust(left=0.0461, right=0.9944, bottom=0.1458, top=0.9135, wspace=0.1165)

tx, ty = signal_curve()
panels = [(lc1_baseline, lc1, lc1_half), (lc2_baseline, lc2, lc2_half)]
for i, ax in enumerate(axes):
    ph, fl = unpack(*panels[i])
    ax.scatter(ph, fl, s=8, color='#333333', linewidths=0, label='Simulated Light Curve', zorder=1)
    bx, by = bls_curve(bls_depth_ppm[i])
    ax.plot(bx, by, color='red', lw=3.6, label='BLS Model', zorder=2)
    ax.plot(tx, ty, color='blue', lw=2.4, label='Transit Signal', zorder=3)

    ax.set_xlim(-2.095, 2.095)
    ax.set_ylim(0.998, 1.002)
    ax.xaxis.set_major_locator(MultipleLocator(0.5))
    ax.xaxis.set_minor_locator(MultipleLocator(0.1))
    ax.yaxis.set_major_locator(MultipleLocator(0.001))
    ax.yaxis.set_minor_locator(MultipleLocator(0.0002))
    ax.ticklabel_format(axis='y', useOffset=False)
    ax.tick_params(which='both', direction='in', top=False, right=False, colors='0.3', width=1.0)
    ax.tick_params(which='major', length=10, labelsize=15, pad=5)
    ax.tick_params(which='minor', length=5)

    ax.set_xlabel('Phase [JD]', fontsize=17.5)
    ax.set_ylabel('Normalized Flux', fontsize=17.5)
    ax.set_title(titles[i], fontsize=17.5, pad=7)

    leg = ax.legend(loc=legend_loc[i], fontsize=13.5, scatterpoints=3, fancybox=True,
                    framealpha=0.8, edgecolor='0.4', handlelength=1.7, labelspacing=0.25)
    leg.get_frame().set_linewidth(1.0)

plt.savefig('out.png', dpi=200)
print('saved out.png')
